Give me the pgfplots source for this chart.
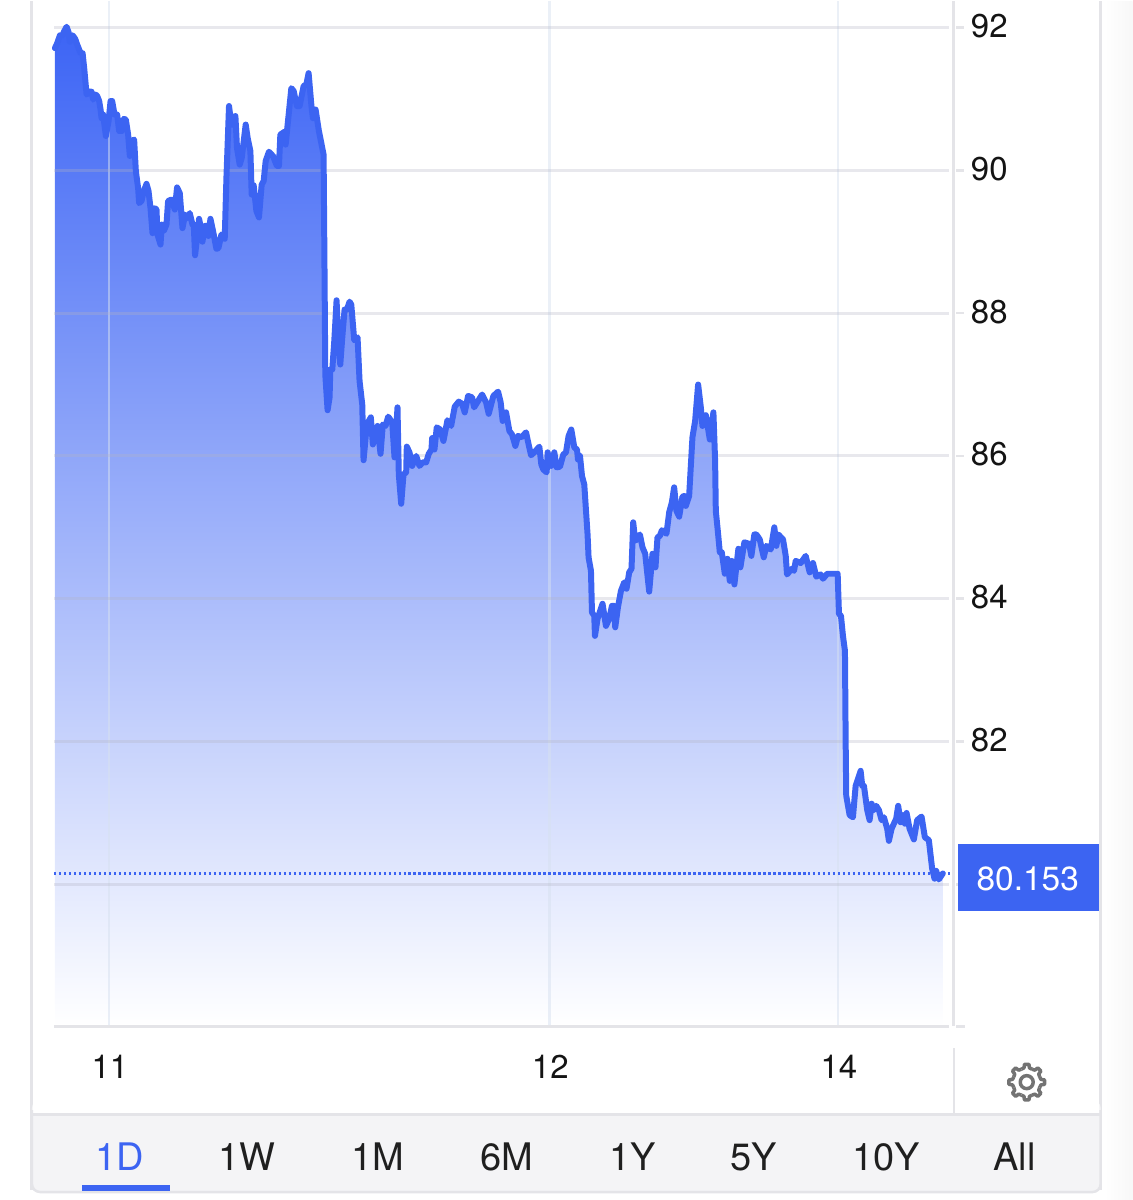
\documentclass[border=0pt]{standalone}
\usepackage{fontspec}
\setmainfont{TeX Gyre Heros}
\usepackage{pgfplots}
\usepackage{pgfplotstable}
\pgfplotsset{compat=1.18}
\definecolor{lineblue}{RGB}{60,100,242}
\definecolor{topblue}{RGB}{60,100,245}
\definecolor{rule}{RGB}{228,228,232}
\definecolor{footbg}{RGB}{244,244,246}
\definecolor{hgrid}{RGB}{180,180,195}
\definecolor{vgrid}{RGB}{215,225,240}
\pgfplotstableread{
x y
55 91.71
57.3 91.78
60 91.89
62.7 91.89
64 91.94
66.7 92.01
68.7 91.93
70 91.80
72.7 91.89
75.3 91.84
77.3 91.76
80.7 91.64
82.7 91.64
84.3 91.43
86.7 91.06
89.3 91.10
91.7 91.10
93.3 90.99
96 91.06
97.3 91.04
99.3 90.97
100.7 90.85
101.7 90.73
103.3 90.78
106 90.48
108.7 90.69
110.7 90.97
112.3 90.97
114.7 90.78
117.3 90.78
119.3 90.55
122 90.55
124 90.72
126 90.71
128.3 90.50
130 90.20
132 90.41
134.3 90.43
136 89.99
138.3 89.75
139.3 89.54
141.7 89.57
144 89.71
146.7 89.81
148.7 89.71
150.7 89.47
152.7 89.12
155 89.47
156.7 89.45
157.7 89.10
160.7 88.96
162 89.24
164 89.15
166.7 89.24
168.3 89.57
171.7 89.59
175 89.45
177.3 89.76
180 89.68
182.7 89.19
185.3 89.38
187.3 89.33
190 89.40
192.7 89.24
194 89.24
195.3 88.81
197.3 89.05
199.3 89.32
201.3 89.19
202.7 89.00
205 89.22
207.3 89.22
208.7 89.08
210.7 89.32
213.3 89.15
216.7 88.90
218.7 88.91
221.7 89.10
225 89.04
226.7 89.89
229.3 90.90
231.7 90.64
234 90.64
235.7 90.76
237.3 90.31
240 90.08
242 90.17
246 90.64
248 90.45
250.7 90.27
252 89.66
254 89.79
256.7 89.43
259.3 89.34
262 89.80
264 89.85
266 90.13
269.3 90.26
273.3 90.20
277.3 90.06
279.3 90.06
280.7 90.50
285 90.54
286 90.36
288 90.64
291.7 91.15
294 91.11
297.3 90.90
300 90.90
304 91.18
306.7 91.20
309 91.36
311.7 90.92
313.3 90.73
316 90.85
319.3 90.55
324 90.22
325 88.45
325.7 87.14
328 86.64
330 86.82
330.7 87.21
332.7 87.21
334.7 87.61
337 88.18
338.7 87.61
340.7 87.28
342.7 87.66
345 88.05
347.3 88.05
350 88.16
351.7 88.12
354.7 87.62
358 87.66
360 87.05
362.7 86.72
364 85.94
367.3 86.44
371.3 86.54
373.3 86.16
378 86.42
381 86.03
383.3 86.44
386 86.42
388.7 86.55
392.7 86.47
395 85.98
398 86.68
399.3 85.74
401.7 85.33
404 85.74
406.7 85.77
407.3 86.13
410 86.05
412.7 85.86
416.7 86.00
420 85.86
423.3 85.91
426.7 85.91
429.3 86.03
432 86.09
432.7 86.25
435 86.09
437.3 86.40
440.7 86.37
444 86.21
448 86.50
451.7 86.42
455.3 86.69
459.3 86.76
462.7 86.73
465.3 86.61
468.7 86.84
472.7 86.82
474.7 86.68
482.7 86.86
486.7 86.75
489.3 86.59
494 86.84
498.7 86.90
501.3 86.75
503.3 86.49
506.7 86.61
510 86.35
512.7 86.30
516 86.14
518.7 86.28
522 86.26
526.7 86.33
529.3 86.16
531.7 86.01
535 86.05
540 86.13
542 85.88
544 85.81
547.3 85.77
548.3 86.05
551.7 85.86
555 86.05
557.3 85.84
560.7 85.85
564 86.02
566.7 86.05
569.3 86.28
572 86.37
575 86.12
577.7 86.09
578.7 85.95
580.7 86.00
582.7 85.72
585 85.60
588.3 84.90
589.3 84.58
591.7 84.39
592.7 83.81
595 83.76
595.7 83.48
598.3 83.72
603.3 83.93
606.7 83.62
610 83.72
612.7 83.90
615 83.90
616 83.60
618.7 83.88
621.7 84.11
625 84.23
627.3 84.14
630 84.37
632.3 84.42
634 85.07
636 84.81
640.7 84.90
643.3 84.72
646 84.63
650 84.10
653.3 84.63
656.3 84.44
658.3 84.86
660.7 84.88
662.7 84.96
667.3 84.91
670 85.21
672.7 85.35
675 85.56
677.3 85.23
680 85.15
683.3 85.43
685.3 85.44
686.7 85.30
690 85.44
693.3 86.26
696 86.49
699 87.00
701.7 86.68
703.3 86.42
706.7 86.57
708.3 86.44
710.7 86.23
714.3 86.61
716 85.93
716.7 85.23
718.7 84.95
720.7 84.65
722.7 84.65
725.7 84.35
728.3 84.56
730.7 84.25
732.7 84.53
735.3 84.20
739.3 84.70
741.3 84.44
745.3 84.79
750 84.77
752.3 84.60
755.3 84.90
757.3 84.90
760.7 84.83
764.7 84.58
767.3 84.74
771.7 84.69
775.3 85.00
777.3 84.74
779.3 84.90
784 84.83
786.7 84.60
788 84.34
792.7 84.42
795 84.39
796.7 84.53
801.7 84.50
806.7 84.60
810.7 84.37
814 84.50
817.3 84.31
821.7 84.34
824 84.28
828.3 84.35
830.7 84.35
838.7 84.35
840 83.79
842 83.76
844 83.48
846 83.27
846.7 82.01
847.3 81.24
850.7 80.97
854 80.94
856.7 81.38
861.7 81.59
863.3 81.38
865 81.38
868.3 81.04
870.7 80.90
872.7 81.13
875 81.04
877.3 81.10
880 81.04
882.7 80.90
885 80.94
888.3 80.78
890 80.61
892.7 80.78
897.3 80.92
899.3 81.10
901.7 80.87
904 80.97
906 80.85
907.7 81.00
910.7 80.78
915 80.63
918.3 80.90
922.7 80.95
926 80.66
930 80.62
933.3 80.22
935.7 80.08
937.3 80.19
940 80.07
944 80.153
}\pricedata
\begin{document}
\begin{tikzpicture}
\path (0,0) rectangle (1134pt,1200pt);
\shade[left color=white, right color=black!3] (1106pt,0) rectangle (1134pt,1200pt);
\begin{axis}[
  set layers,
  at={(54pt,174pt)}, anchor=south west,
  scale only axis, width=896pt, height=1026pt,
  xmin=54, xmax=950, ymin=78.014, ymax=92.364,
  clip=false,
  axis x line*=bottom, axis y line*=right,
  axis line style={draw=none},
  xtick={109,550,839}, xticklabels={11,12,14},
  ytick={80,82,84,86,88,90,92},
  yticklabels={{},82,84,86,88,90,92},
  /pgf/number format/assume math mode=true,
  tick label style={font=\fontsize{33}{36}\selectfont, text=black!92},
  xticklabel style={anchor=north, inner sep=0pt, yshift=-21pt, xshift=1pt},
  yticklabel style={anchor=west, inner sep=0pt, xshift=14pt, yshift=1.5pt},
  ytick align=outside, xtick align=outside,
  major tick length=8pt,
  ytick style={draw=rule, line width=2.5pt, xshift=7pt},
  xtick style={draw=none},
  grid=major,
  x grid style={vgrid, opacity=0.5, line width=2.5pt},
  y grid style={hgrid, opacity=0.3, line width=3pt},
]
\addplot[on layer=axis background, draw=none, shade, top color=topblue, bottom color=white] table[x=x,y=y] {\pricedata} \closedcycle;
\addplot[lineblue, line width=6pt, line join=round, line cap=round] table[x=x,y=y] {\pricedata};
\addplot[lineblue, line width=2.5pt, dash pattern=on 2.5pt off 2.5pt] coordinates {(54,80.153) (959,80.153)};
\end{axis}
\begin{scope}[x=1pt,y=-1pt,yshift=1200pt]
  % chart frame rules
  \draw[rule, line width=3pt] (54,1026.5) -- (950,1026.5);
  \draw[rule, line width=2.5pt] (957,1026.5) -- (966,1026.5);
  \draw[rule, line width=3pt] (955,0) -- (955,1026);
  % card
  \draw[rule, line width=3pt] (32,0) -- (32,1190);
  \draw[rule, line width=3pt] (1102,0) -- (1102,1190);
  \fill[footbg, rounded corners=8pt] (32,1100) rectangle (1102,1192);
  \fill[white] (33.5,1090) rectangle (1100.5,1114);
  \draw[rule, line width=3pt] (32,1114) -- (1102,1114);
  \draw[rule, line width=2.5pt, rounded corners=8pt] (32,1110) -- (32,1192) -- (1102,1192) -- (1102,1110);
  \draw[rule, line width=2.5pt] (955,1048) -- (955,1113);
  % price tag
  \fill[lineblue] (959,844) rectangle (1100.5,910.5);
  \node[text=white, font=\fontsize{33.5}{36}\selectfont, inner sep=0pt] at (1029,878) {80.153};
  % range buttons
  \foreach \lx/\lt in {247/1W,378/1M,507/6M,633/1Y,755/5Y,887/10Y,1016/All}
    \node[text=black!88, font=\fontsize{38}{42}\selectfont, inner sep=0pt, anchor=base] at (\lx,1170) {\lt};
  \node[text=lineblue, font=\fontsize{38}{42}\selectfont, inner sep=0pt, anchor=base] at (120,1170) {1D};
  \fill[lineblue] (82,1185) rectangle (170,1190.5);
  % gear
  \begin{scope}[shift={(1028,1082)}, line width=3.5pt, line join=round]
    \foreach \a in {0,45,...,315}
      \draw[black!55] (\a-22.5:14) -- (\a-11:14.5) -- (\a-7:18) -- (\a+7:18) -- (\a+11:14.5) -- (\a+22.5:14);
    \draw[black!55] (0,0) circle (6.5);
  \end{scope}
\end{scope}
\end{tikzpicture}
\end{document}
